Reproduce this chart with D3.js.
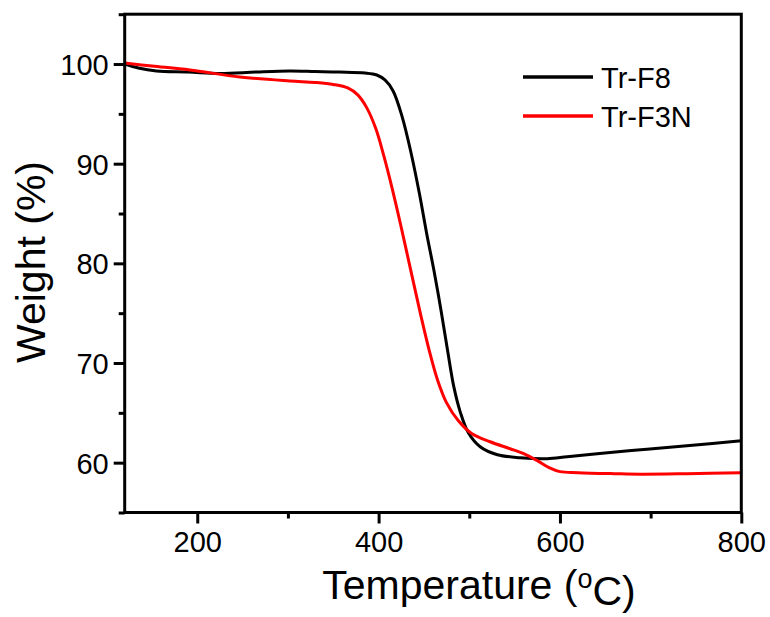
<!DOCTYPE html>
<html>
<head>
<meta charset="utf-8">
<script src="https://cdn.jsdelivr.net/npm/d3@7"></script>
<style>
  body { margin: 0; background: #fff; }
  svg { display: block; font-family: "Liberation Sans", Arial, sans-serif; }
</style>
</head>
<body>
<div id="container"></div>
<script>
// TGA curves: [temperature (°C), weight (%)]
let trF8 = [
  [120, 100], [135, 99.6], [155, 99.3], [190, 99.2], [225, 99.05], [265, 99.2],
  [302, 99.3], [330, 99.25], [357, 99.2], [385, 99.1], [398, 98.9], [407, 98.4],
  [416, 97.3], [426, 94.7], [436, 91], [445, 87], [453, 83], [461, 79.3],
  [469, 75.2], [476, 71.3], [483, 67.6], [490, 65.1], [499, 63], [512, 61.6],
  [531, 60.8], [556, 60.5], [586, 60.4], [608, 60.6], [641, 60.9], [689, 61.3],
  [740, 61.7], [800, 62.2]
];
let trF3N = [
  [120, 100.1], [150, 99.8], [192, 99.4], [247, 98.7], [302, 98.3], [330, 98.15],
  [350, 97.95], [366, 97.6], [377, 96.9], [387, 95.6], [397, 93.5], [406, 90.7],
  [415, 87.5], [424, 84], [435, 79.5], [446, 75], [456, 71.2], [465, 68.3],
  [475, 66], [488, 64.2], [503, 62.9], [523, 62.1], [545, 61.4], [560, 60.9],
  [575, 60.2], [588, 59.5], [600, 59.1], [620, 59.0], [660, 58.9], [689, 58.85],
  [740, 58.9], [800, 59.0]
];

let series = [
  { name: "Tr-F8", color: "#000000", values: trF8 },
  { name: "Tr-F3N", color: "#ff0000", values: trF3N }
];

let xMajor = [200, 400, 600, 800];
let xMinor = [300, 500, 700];
let yMajor = [60, 70, 80, 90, 100];
let yMinor = [55, 65, 75, 85, 95, 105];

let width = 770;
let height = 617;

let svg = d3.select("#container")
  .append("svg")
  .attr("width", width)
  .attr("height", height);

// 比例尺
let x = d3.scaleLinear().domain([120, 800]).range([124.7, 741.3]);
let y = d3.scaleLinear().domain([55, 105]).range([512.5, 14.2]);

// 坐标轴
function styleAxis(g) {
  g.select(".domain").remove();
  g.selectAll(".tick line").attr("stroke", "#000").attr("stroke-width", 3);
  g.selectAll(".tick text").attr("fill", "#000").style("font-size", "29px");
}

svg.append("g")
  .attr("transform", `translate(0,${y(55)})`)
  .call(d3.axisBottom(x).tickValues(xMajor).tickSize(11).tickFormat(d3.format("d")))
  .call(styleAxis)
  .call(g => g.selectAll(".tick text").attr("dy", "0.71em").attr("y", 19));

svg.append("g")
  .attr("transform", `translate(0,${y(55)})`)
  .call(d3.axisBottom(x).tickValues(xMinor).tickSize(6).tickFormat(""))
  .call(styleAxis);

svg.append("g")
  .attr("transform", `translate(${x(120)},0)`)
  .call(d3.axisLeft(y).tickValues(yMajor).tickSize(11).tickFormat(d3.format("d")))
  .call(styleAxis)
  .call(g => g.selectAll(".tick text").attr("dy", "0.36em").attr("x", -16));

svg.append("g")
  .attr("transform", `translate(${x(120)},0)`)
  .call(d3.axisLeft(y).tickSize(6).tickValues(yMinor).tickFormat(""))
  .call(styleAxis);

// 曲线
let line = d3.line()
  .x(d => x(d[0]))
  .y(d => y(d[1]))
  .curve(d3.curveCatmullRom.alpha(0.5));

svg.selectAll("path.curve")
  .data(series)
  .join("path")
  .attr("class", "curve")
  .attr("fill", "none")
  .attr("stroke", d => d.color)
  .attr("stroke-width", 3)
  .attr("stroke-linejoin", "round")
  .attr("d", d => line(d.values));

// 边框
svg.append("rect")
  .attr("x", x(120))
  .attr("y", y(105))
  .attr("width", x(800) - x(120))
  .attr("height", y(55) - y(105))
  .attr("fill", "none")
  .attr("stroke", "#000")
  .attr("stroke-width", 3);

// 图例
let legend = svg.selectAll("g.legend")
  .data(series)
  .join("g")
  .attr("class", "legend")
  .attr("transform", (d, i) => `translate(523,${77 + i * 39})`);

legend.append("line")
  .attr("x1", 0).attr("x2", 70)
  .attr("stroke", d => d.color)
  .attr("stroke-width", 3.5);

legend.append("text")
  .attr("x", 78)
  .attr("y", 11)
  .style("font-size", "29px")
  .text(d => d.name);

// 轴标题
let xTitle = svg.append("text")
  .attr("x", 479)
  .attr("y", 599)
  .attr("text-anchor", "middle")
  .style("font-size", "41px");
xTitle.append("tspan").text("Temperature (");
xTitle.append("tspan").attr("dy", "-0.42em").style("font-size", "27px").text("o");
xTitle.append("tspan").attr("dy", "0.42em").text("C)");

svg.append("text")
  .attr("transform", "translate(45,262) rotate(-90)")
  .attr("text-anchor", "middle")
  .style("font-size", "41px")
  .text("Weight (%)");
</script>
</body>
</html>
